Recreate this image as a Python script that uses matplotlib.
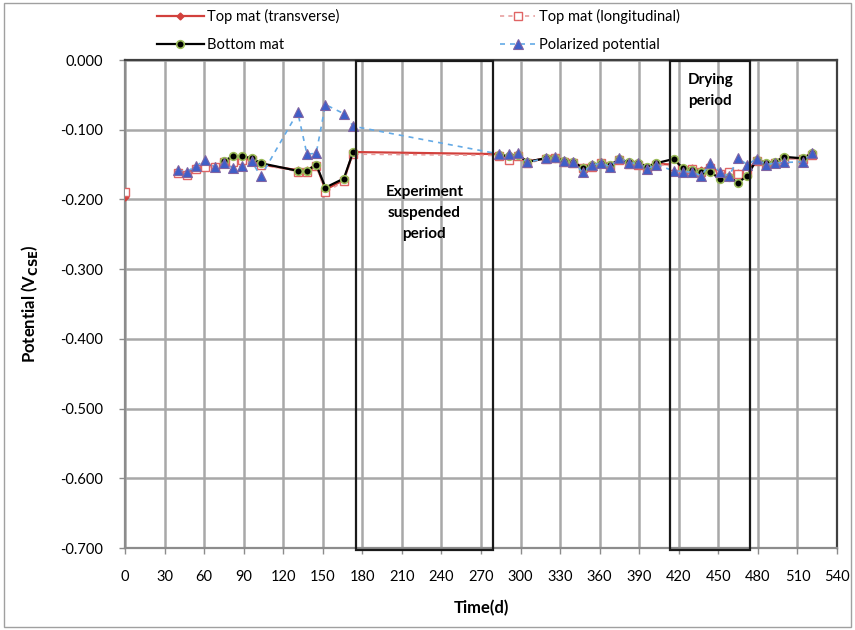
import numpy as np
import matplotlib
matplotlib.use("Agg")
import matplotlib.pyplot as plt
from matplotlib.patches import Rectangle
from matplotlib.lines import Line2D

plt.rcParams['font.family'] = ['Lato', 'DejaVu Sans']

# ---- data -------------------------------------------------------------
# initial reading (day 0)
day0 = [0]
top_trans_day0 = [-0.197]
top_long_day0 = [-0.189]

# weekly readings, first phase
days_a = [40, 47, 54, 61, 68, 75, 82, 89, 96, 103, 131, 138, 145, 152, 166, 173]
top_trans_a = [-0.160, -0.162, -0.155, -0.152, -0.152, -0.148, -0.145, -0.142,
               -0.143, -0.150, -0.158, -0.158, -0.150, -0.186, -0.172, -0.132]
top_long_a = [-0.162, -0.165, -0.156, -0.153, -0.153, -0.147, -0.146, -0.143,
              -0.144, -0.150, -0.160, -0.160, -0.152, -0.190, -0.174, -0.135]
polar_a = [-0.158, -0.160, -0.152, -0.143, -0.154, -0.148, -0.155, -0.152,
           -0.145, -0.167, -0.075, -0.135, -0.134, -0.064, -0.077, -0.095]

days_bottom_a = [75, 82, 89, 96, 103, 131, 138, 145, 152, 166, 173]
bottom_a = [-0.145, -0.138, -0.138, -0.141, -0.148, -0.159, -0.159, -0.150,
            -0.183, -0.170, -0.132]

# weekly readings after the break
days_b = [284, 291, 298, 305, 319, 326, 333, 340, 347, 354, 361, 368, 375, 382,
          389, 396, 403, 416, 423, 430, 437, 444, 451, 458, 465, 472, 479, 486,
          493, 500, 514, 521]
top_trans_b = [-0.135, -0.142, -0.136, -0.146, -0.141, -0.140, -0.146, -0.147,
               -0.153, -0.152, -0.147, -0.151, -0.143, -0.148, -0.149, -0.154,
               -0.149, -0.150, -0.156, -0.155, -0.158, -0.152, -0.162, -0.160,
               -0.162, -0.160, -0.143, -0.148, -0.147, -0.141, -0.141, -0.134]
top_long_b = [-0.137, -0.144, -0.138, -0.148, -0.142, -0.141, -0.147, -0.148,
              -0.155, -0.153, -0.148, -0.152, -0.144, -0.149, -0.150, -0.155,
              -0.150, -0.152, -0.158, -0.157, -0.160, -0.155, -0.163, -0.161,
              -0.164, -0.162, -0.145, -0.150, -0.148, -0.142, -0.142, -0.136]
bottom_b = [-0.136, -0.138, -0.136, -0.146, -0.141, -0.140, -0.145, -0.146,
            -0.155, -0.151, -0.148, -0.151, -0.142, -0.147, -0.148, -0.153,
            -0.148, -0.142, -0.155, -0.158, -0.160, -0.160, -0.171, -0.168,
            -0.176, -0.166, -0.143, -0.148, -0.146, -0.139, -0.141, -0.134]
polar_b = [-0.135, -0.135, -0.134, -0.147, -0.141, -0.139, -0.145, -0.146,
           -0.161, -0.151, -0.148, -0.153, -0.141, -0.148, -0.148, -0.156,
           -0.150, -0.159, -0.160, -0.161, -0.166, -0.148, -0.160, -0.167,
           -0.141, -0.150, -0.142, -0.150, -0.148, -0.147, -0.146, -0.134]

suspended_span = (175, 279)
drying_span = (413, 474)

x_ticks = list(range(0, 541, 30))
y_ticks = [0.0, -0.1, -0.2, -0.3, -0.4, -0.5, -0.6, -0.7]

# ---- styles -------------------------------------------------------------
red = '#D2403C'
pink_line = '#E8A0A0'
pink_edge = '#E06464'
blue_line = '#64AAE6'
tri_face = '#3F5FC8'
tri_edge = '#8064A2'
green_edge = '#9BBB59'

styles = {
    'trans': dict(color=red, lw=1.6, marker='D', ms=3.5, mfc=red, mec=red),
    'long': dict(color=pink_line, lw=1.2, ls=(0, (2.5, 2.5)), marker='s', ms=5.5,
                 mfc='white', mec=pink_edge, mew=1.0),
    'bottom': dict(color='black', lw=1.6, marker='o', ms=5.5, mfc='black',
                   mec=green_edge, mew=1.2),
    'polar': dict(color=blue_line, lw=1.2, ls=(0, (3, 3)), marker='^', ms=6.5,
                  mfc=tri_face, mec=tri_edge, mew=0.8),
}


def markers_only(key):
    return {k: v for k, v in styles[key].items() if k not in ('ls', 'lw')}


fig = plt.figure(figsize=(8.55, 6.3), dpi=100)
ax = fig.add_axes([125 / 855, 1 - 548 / 630, (837 - 125) / 855, (548 - 60) / 630])

# series (drawn in this order so triangles end on top)
ax.plot(day0, top_trans_day0, ls='none', **markers_only('trans'), zorder=3)
ax.plot(days_a + days_b, top_trans_a + top_trans_b, **styles['trans'], zorder=3)
ax.plot(day0, top_long_day0, ls='none', **markers_only('long'), zorder=4)
ax.plot(days_a + days_b, top_long_a + top_long_b, **styles['long'], zorder=4)
ax.plot(days_bottom_a, bottom_a, **styles['bottom'], zorder=5)
ax.plot(days_b, bottom_b, **styles['bottom'], zorder=5)
ax.plot(days_a + days_b, polar_a + polar_b, **styles['polar'], zorder=6)

# axes
ax.set_xlim(0, 540)
ax.set_ylim(-0.7, 0.0)
ax.set_xticks(x_ticks)
ax.set_yticks(y_ticks)
ax.set_yticklabels([f'{v:.3f}' for v in y_ticks])
ax.tick_params(axis='both', labelsize=10.5, length=4, width=1, color='#8C8C8C',
               labelcolor='black')
ax.tick_params(axis='x', pad=12)
ax.tick_params(axis='y', pad=12)
ax.grid(True, color='#A8A8A8', lw=1.8, zorder=0)
ax.set_axisbelow(True)
for side in ('top', 'right'):
    ax.spines[side].set_color('#404040')
    ax.spines[side].set_linewidth(1.6)
for side in ('left', 'bottom'):
    ax.spines[side].set_color('#8C8C8C')
    ax.spines[side].set_linewidth(1.6)

ax.set_xlabel('Time(d)', fontsize=12, fontweight='bold', labelpad=11)
ax.set_ylabel(r'Potential (V$_{\mathbf{CSE}}$)', fontsize=12, fontweight='bold',
              labelpad=14)

# period boxes
for (x0, x1) in (suspended_span, drying_span):
    ax.add_patch(Rectangle((x0, -0.703), x1 - x0, 0.701, fill=False,
                           edgecolor='#1A1A1A', lw=1.6, clip_on=False, zorder=7))

ax.text(227, -0.219, 'Experiment\nsuspended\nperiod', ha='center', va='center',
        fontsize=11, fontweight='bold', linespacing=1.65, zorder=8)
ax.text(444, -0.044, 'Drying\nperiod', ha='center', va='center',
        fontsize=11, fontweight='bold', linespacing=1.65, zorder=8)


# legend
def handle(key):
    return Line2D([], [], **styles[key])


leg_kw = dict(frameon=False, fontsize=10.5, handletextpad=0.25,
              labelspacing=0.95, borderaxespad=0, borderpad=0)
fig.legend([handle('trans'), handle('bottom')],
           ['Top mat (transverse)', 'Bottom mat'], handlelength=3.2,
           loc='upper left', bbox_to_anchor=(157 / 855, 1 - 9 / 630), **leg_kw)
fig.legend([handle('long'), handle('polar')],
           ['Top mat (longitudinal)', 'Polarized potential'], handlelength=2.4,
           loc='upper left', bbox_to_anchor=(500 / 855, 1 - 9 / 630), **leg_kw)

# outer chart frame
fig.add_artist(Rectangle((0.005, 0.004), 0.99, 0.992, transform=fig.transFigure,
                         fill=False, edgecolor='#A0A0A0', lw=1.0))

fig.savefig('out.png', dpi=100)
